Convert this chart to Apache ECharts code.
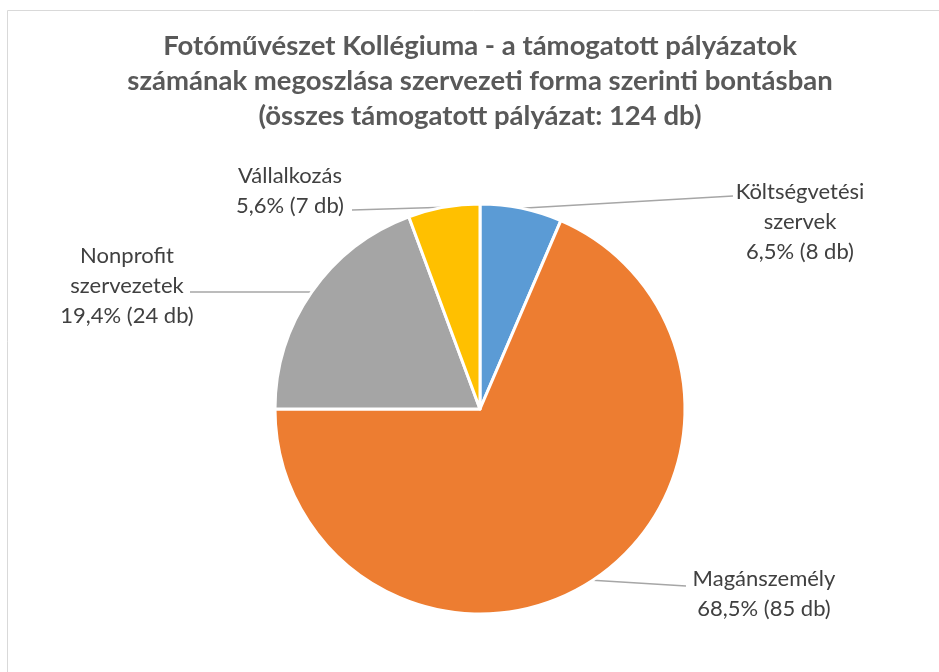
<!DOCTYPE html>
<html>
<head>
<meta charset="utf-8">
<script src="https://cdn.jsdelivr.net/npm/echarts@6/dist/echarts.min.js"></script>
<style>
  html, body { margin: 0; padding: 0; background: #fff; }
  #chart { width: 939px; height: 672px; }
</style>
</head>
<body>
<div id="chart"></div>
<script>
// kategóriák és értékek (db)
const categories = ['Költségvetési\nszervek', 'Magánszemély', 'Nonprofit\nszervezetek', 'Vállalkozás'];
const counts = [8, 85, 24, 7];
const colors = ['#5B9BD5', '#ED7D31', '#A5A5A5', '#FFC000'];
const titleLines = [
  'Fotóművészet Kollégiuma - a támogatott pályázatok',
  'számának megoszlása szervezeti forma szerinti bontásban',
  '(összes támogatott pályázat: 124 db)'
];
// címkék helye (szöveg blokk közepe) és a vezetővonal vége
const labelPos = [[800, 222], [764, 594], [127, 286], [290, 191]];
const lineEnd = [[733, 196], [686, 586], [190, 292], [352, 210]];

const total = counts.reduce((a, b) => a + b, 0);

const chart = echarts.init(document.getElementById('chart'));
const option = {
  animation: false,
  title: {
    text: titleLines.join('\n'),
    left: 475,
    textAlign: 'center',
    top: 24,
    textStyle: {
      fontFamily: 'Lato',
      fontWeight: 'bold',
      fontSize: 27.5,
      lineHeight: 35,
      color: '#595959'
    }
  },
  graphic: [{
    type: 'rect',
    shape: { x: 7.5, y: 10.5, width: 1000, height: 1000 },
    style: { fill: 'none', stroke: '#d9d9d9', lineWidth: 1 },
    silent: true
  }],
  series: [{
    type: 'pie',
    center: [480, 409],
    radius: [0, 205],
    startAngle: 90,
    clockwise: true,
    data: categories.map((c, i) => ({
      name: c,
      value: counts[i],
      itemStyle: { color: colors[i] }
    })),
    itemStyle: { borderColor: '#fff', borderWidth: 3 },
    label: {
      show: true,
      position: 'outside',
      fontFamily: 'Lato',
      fontSize: 22,
      lineHeight: 30,
      color: '#404040',
      align: 'center',
      formatter: p => {
        const pct = (counts[p.dataIndex] / total * 100).toFixed(1).replace('.', ',');
        return p.name + '\n' + pct + '% (' + p.value + ' db)';
      }
    },
    labelLine: {
      show: true,
      length: 10,
      length2: 10,
      lineStyle: { color: '#a6a6a6', width: 1.5 }
    },
    labelLayout: params => {
      const i = params.dataIndex;
      const out = {
        x: labelPos[i][0],
        y: labelPos[i][1],
        align: 'center',
        verticalAlign: 'middle'
      };
      if (params.labelLinePoints) {
        out.labelLinePoints = [params.labelLinePoints[0], lineEnd[i]];
      }
      return out;
    }
  }]
};
chart.setOption(option);
</script>
</body>
</html>
